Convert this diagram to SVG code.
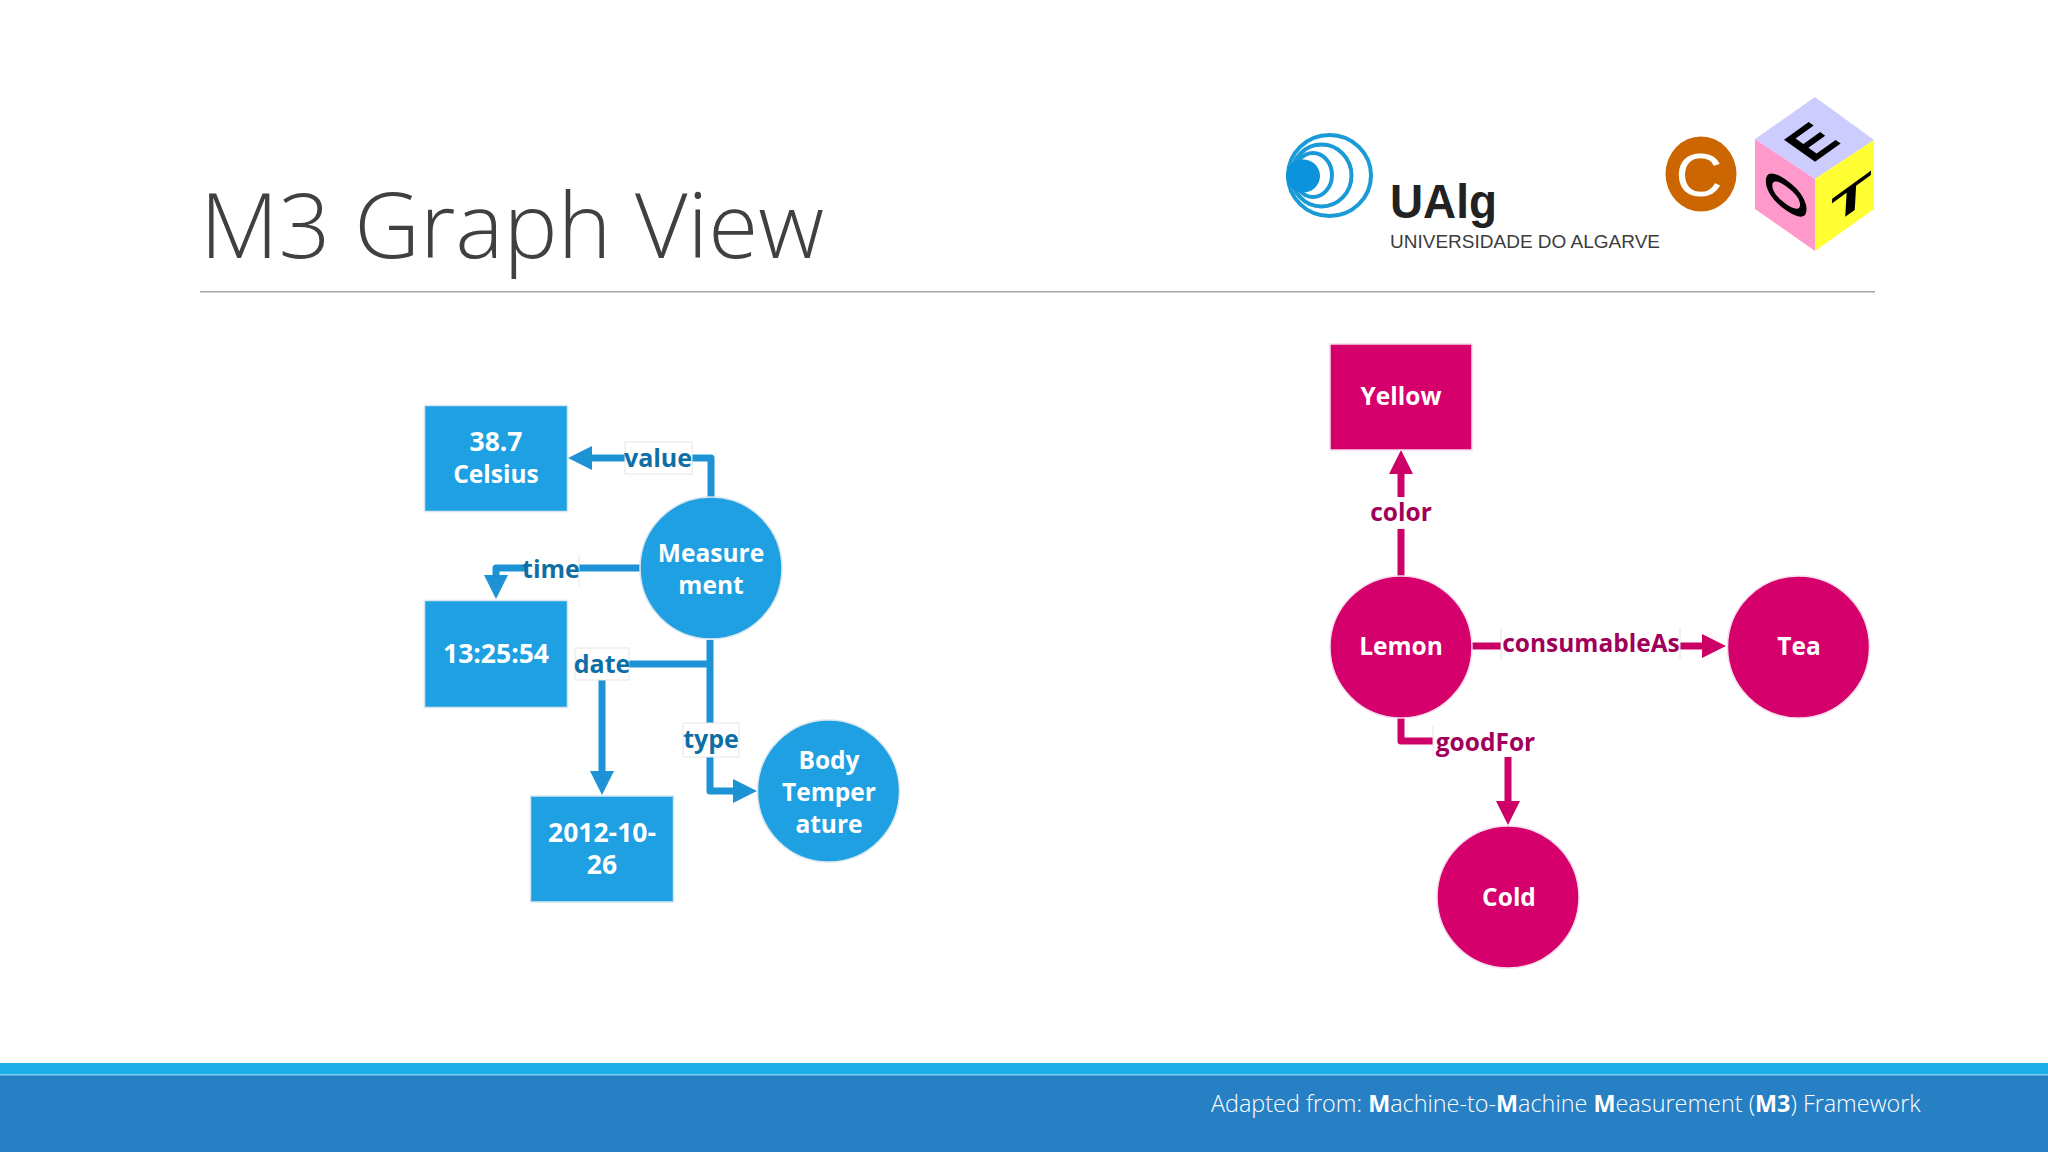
<svg xmlns="http://www.w3.org/2000/svg" width="2048" height="1152" viewBox="0 0 2048 1152">
<style>
text{font-family:"Open Sans","Noto Sans","Liberation Sans",sans-serif}
.nt{font-size:24.500px;font-weight:700;fill:#fff;text-anchor:middle}
.dg{font-size:26.500px}
.bn{fill:#1ea0e2;stroke:#d8e6ee;stroke-width:1.5}
.pn{fill:#d6006c;stroke:#f4dcea;stroke-width:1.5}
.bc{fill:none;stroke:#1d93d6;stroke-width:7;stroke-linejoin:round}
.pc{fill:none;stroke:#cc0066;stroke-width:7;stroke-linejoin:round}
.lb{fill:#fff;stroke:#e6e6e6;stroke-width:1}
.nb{fill:#fff;stroke:none}
.ed{stroke:#e4e4e4;stroke-width:1}
.bl{font-size:25px;font-weight:700;fill:#0f6fa5;text-anchor:middle}
.pl{font-size:24.500px;font-weight:700;fill:#a0005a;text-anchor:middle}
.cube{font-family:"Liberation Sans",sans-serif;font-weight:700;font-size:48px;fill:#000}
.lg{font-family:"Liberation Sans",sans-serif}
.ring{fill:none;stroke:#1a9ad6;stroke-width:4}
</style>
<defs>
<marker id="ab" markerUnits="userSpaceOnUse" markerWidth="24" markerHeight="24" refX="2" refY="12" orient="auto"><path d="M0 0L24 12L0 24z" fill="#1d93d6"/></marker>
<marker id="ap" markerUnits="userSpaceOnUse" markerWidth="24" markerHeight="24" refX="2" refY="12" orient="auto"><path d="M0 0L24 12L0 24z" fill="#cc0066"/></marker>
</defs>
<rect width="2048" height="1152" fill="#fff"/>
<text x="200" y="258" font-size="91" font-weight="300" fill="#404040">M3 Graph View</text>
<rect x="200" y="291" width="1675" height="1.5" fill="#a6a6a6"/>

<g id="logo-ualg">
<ellipse class="ring" cx="1329.500" cy="175.500" rx="41.500" ry="40.500"/>
<ellipse class="ring" cx="1321.500" cy="175.500" rx="30" ry="31"/>
<ellipse class="ring" cx="1313" cy="175" rx="19" ry="22"/>
<ellipse cx="1303" cy="176" rx="17" ry="16.500" fill="#0d93dc"/>
<text class="lg" x="1390" y="218" font-size="49" font-weight="700" textLength="107" lengthAdjust="spacingAndGlyphs" fill="#222">UAlg</text>
<text class="lg" x="1390" y="247.500" font-size="19" textLength="270" lengthAdjust="spacingAndGlyphs" fill="#3c3c3c">UNIVERSIDADE DO ALGARVE</text>
</g>
<g id="logo-coet">
<ellipse cx="1701" cy="174" rx="35.500" ry="37.500" fill="#cc6600"/>
<text class="lg" transform="translate(1699 196) scale(1.05 1)" font-size="62" text-anchor="middle" fill="#fff">C</text>
<path d="M1815 97L1874 140L1815 179L1755 139z" fill="#ccccff"/>
<path d="M1755 139L1815 179V251L1755 209z" fill="#ff99cc"/>
<path d="M1874 140L1815 179V251L1874 209z" fill="#ffff33"/>
<text class="cube" transform="matrix(.95 -.68 .94 .67 1812 164)">E</text>
<text class="cube" transform="matrix(0 -.92 1.2 .83 1806 226)">O</text>
<text class="cube" transform="matrix(1.38 -1 -.05 .87 1829.700 228)">T</text>
</g>

<g id="connectors">
<path class="bc" marker-end="url(#ab)" d="M711 498V458H590"/>
<path class="bc" marker-end="url(#ab)" d="M640 568H496V577"/>
<path class="bc" marker-end="url(#ab)" d="M709 664H602V773"/>
<path class="bc" marker-end="url(#ab)" d="M710 640V791H735"/>
<path class="pc" marker-end="url(#ap)" d="M1401 577V472"/>
<path class="pc" marker-end="url(#ap)" d="M1472 646H1704"/>
<path class="pc" marker-end="url(#ap)" d="M1401 717V741H1508V803"/>
</g>
<g id="edge-labels">
<rect class="lb" x="625" y="442" width="67" height="32"/><text class="bl" x="658" y="467">value</text>
<rect class="nb" x="525" y="554" width="54" height="32"/><path class="ed" d="M579 554V586"/><text class="bl" x="551" y="578">time</text>
<rect class="lb" x="575" y="648" width="54" height="32"/><text class="bl" x="602" y="673">date</text>
<rect class="lb" x="683" y="723" width="56" height="34"/><text class="bl" x="711" y="748">type</text>
<rect class="nb" x="1370" y="497" width="62" height="32"/><text class="pl" x="1401" y="521">color</text>
<rect class="nb" x="1501" y="628" width="179" height="31"/><path class="ed" d="M1501 628V659M1680 628V659"/><text class="pl" x="1591" y="652">consumableAs</text>
<rect class="nb" x="1433" y="726" width="105" height="31"/><path class="ed" d="M1433 726V757"/><text class="pl" x="1485.500" y="751">goodFor</text>
</g>

<g id="n-celsius"><rect class="bn" x="424.500" y="405.500" width="143" height="106"/><text class="nt dg" x="496" y="451">38.7</text><text class="nt" x="496" y="483">Celsius</text></g>
<g id="n-time"><rect class="bn" x="424.500" y="600.500" width="143" height="107"/><text class="nt dg" x="496" y="663">13:25:54</text></g>
<g id="n-date"><rect class="bn" x="530.500" y="796" width="143" height="106"/><text class="nt dg" x="602" y="842">2012-10-</text><text class="nt dg" x="602" y="874">26</text></g>
<g id="n-measurement"><circle class="bn" cx="711" cy="568" r="71"/><text class="nt" x="711" y="562">Measure</text><text class="nt" x="711" y="594">ment</text></g>
<g id="n-body"><circle class="bn" cx="828.500" cy="791" r="71"/><text class="nt" x="829" y="769">Body</text><text class="nt" x="829" y="801">Temper</text><text class="nt" x="829" y="833">ature</text></g>
<g id="n-yellow"><rect class="pn" x="1330" y="344" width="142" height="106"/><text class="nt" x="1401" y="405">Yellow</text></g>
<g id="n-lemon"><circle class="pn" cx="1401" cy="647" r="71"/><text class="nt" x="1401" y="655">Lemon</text></g>
<g id="n-tea"><circle class="pn" cx="1798.500" cy="647" r="71"/><text class="nt" x="1799" y="655">Tea</text></g>
<g id="n-cold"><circle class="pn" cx="1508" cy="897" r="71"/><text class="nt" x="1509" y="906">Cold</text></g>

<rect y="1063" width="2048" height="89" fill="#2780c4"/>
<rect y="1063" width="2048" height="11" fill="#1eaee8"/>
<rect y="1074" width="2048" height="1.500" fill="#7fcdf0"/>
<text x="1211" y="1112" font-size="23.400" fill="#fff" font-weight="300">Adapted from: <tspan font-weight="700">M</tspan>achine-to-<tspan font-weight="700">M</tspan>achine <tspan font-weight="700">M</tspan>easurement (<tspan font-weight="700">M3</tspan>) Framework</text>
</svg>
